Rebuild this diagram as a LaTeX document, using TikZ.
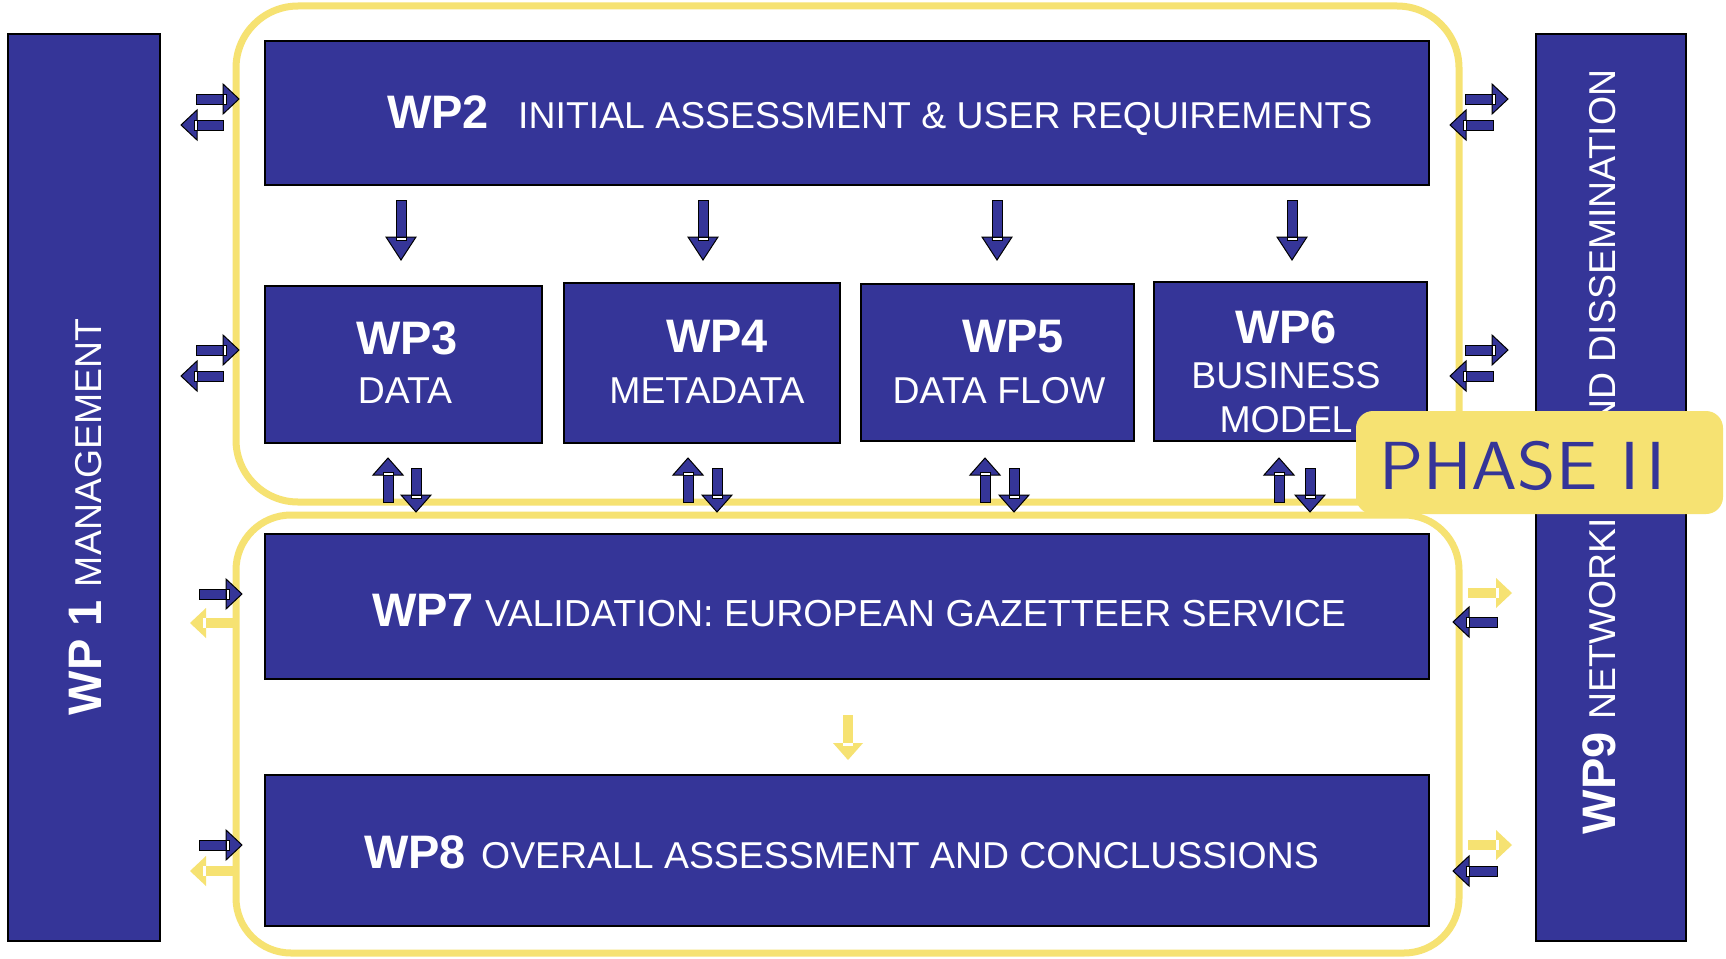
\documentclass[tikz,border=0pt]{standalone}
\usepackage{graphicx}
\usepackage{fontspec}
\setmainfont{Liberation Sans}
\definecolor{wpblue}{RGB}{53,53,152}
\definecolor{wpyellow}{RGB}{246,226,114}
\newcommand{\bigf}{\fontsize{47}{52}\selectfont\bfseries}
\newcommand{\normf}{\fontsize{37.4}{42}\selectfont\mdseries}
% block arrow: #1 colour key, #2 x tip, #3 y tip, #4 angle, #5 total length, #6 head length
\newcommand{\blk}[6]{\begin{scope}[shift={(#2,#3)},rotate=#4]
 \path[arr#1] (-#5,-5) rectangle (-#6+1,5);
 \path[arr#1] (-#6,-15) -- (0,0) -- (-#6,15) -- cycle;
 \path[mk#1] (-#6,-5) rectangle (-#6+3,5);
\end{scope}}
\begin{document}
\begin{tikzpicture}[x=1pt,y=-1pt,
  wpbox/.style={draw=black, line width=2pt, fill=wpblue},
  phaseline/.style={draw=wpyellow, line width=7pt},
  txt/.style={text=white, inner sep=0pt, anchor=base},
  txtw/.style={text=white, inner sep=0pt, anchor=base west},
  arrblue/.style={fill=wpblue, draw=black, line width=1pt},
  arryellow/.style={fill=wpyellow},
  mkblue/.style={fill=white, draw=black, line width=0.7pt},
  mkyellow/.style={fill=white}]
\useasboundingbox[fill=white] (0,0) rectangle (1726,958);

% phase frames
\draw[phaseline, rounded corners=62pt] (236,6) rectangle (1459,502);
\draw[phaseline, rounded corners=55pt] (236,515) rectangle (1459,953);

% side boxes
\path[wpbox] (8,34) rectangle (160,941);
\path[wpbox] (1536,34) rectangle (1686,941);
\node[txt, rotate=90] (wp1t) at (101,517) {\bigf WP 1 \normf MANAGEMENT};
\node[txt, rotate=90] (wp9t) at (1615,452) {\bigf WP9 \normf NETWORKING AND DISSEMINATION};

% main boxes
\path[wpbox] (265,41) rectangle (1429,185);
\path[wpbox] (265,286) rectangle (542,443);
\path[wpbox] (564,283) rectangle (840,443);
\path[wpbox] (861,284) rectangle (1134,441);
\path[wpbox] (1154,282) rectangle (1427,441);
\path[wpbox] (265,534) rectangle (1429,679);
\path[wpbox] (265,775) rectangle (1429,926);

% texts
\node[txtw] (wp2a) at (387,128) {\bigf WP2};
\node[txtw] (wp2b) at (518,128) {\normf INITIAL ASSESSMENT \& USER REQUIREMENTS};
\node[txt] (wp3a) at (407,354) {\bigf WP3};
\node[txt] (wp3b) at (405,403) {\normf DATA};
\node[txt] (wp4a) at (717,352) {\bigf WP4};
\node[txt] (wp4b) at (707,403) {\normf METADATA};
\node[txt] (wp5a) at (1013,352) {\bigf WP5};
\node[txt] (wp5b) at (999,403) {\normf DATA FLOW};
\node[txt] (wp6a) at (1286,343) {\bigf WP6};
\node[txt] (wp6b) at (1286,388) {\normf BUSINESS};
\node[txt] (wp6c) at (1286,432) {\normf MODEL};
\node[txtw] (wp7a) at (372,626) {\bigf WP7};
\node[txtw] (wp7b) at (485,626) {\fontsize{37.6}{42}\selectfont VALIDATION: EUROPEAN GAZETTEER SERVICE};
\node[txtw] (wp8a) at (364,868) {\bigf WP8};
\node[txtw] (wp8b) at (481,868) {\normf OVERALL ASSESSMENT AND CONCLUSSIONS};

% down arrows from WP2
\blk{blue}{401}{260}{-90}{60}{23}
\blk{blue}{703}{260}{-90}{60}{23}
\blk{blue}{997}{260}{-90}{60}{23}
\blk{blue}{1292}{260}{-90}{60}{23}

% up/down pairs
\blk{blue}{388}{458}{90}{44}{17}
\blk{blue}{416}{512}{-90}{44}{17}
\blk{blue}{688}{458}{90}{44}{17}
\blk{blue}{717}{512}{-90}{44}{17}
\blk{blue}{985}{458}{90}{44}{17}
\blk{blue}{1014}{512}{-90}{44}{17}
\blk{blue}{1279}{458}{90}{44}{17}
\blk{blue}{1310}{512}{-90}{44}{17}

% left side pairs
\blk{blue}{239}{99}{0}{43}{16}
\blk{blue}{181}{125}{180}{42}{16}
\blk{blue}{239}{350}{0}{43}{16}
\blk{blue}{181}{376}{180}{42}{16}
\blk{blue}{242}{594}{0}{43}{16}
\blk{yellow}{190}{623}{180}{43}{16}
\blk{blue}{242}{845}{0}{43}{16}
\blk{yellow}{190}{871}{180}{43}{16}

% right side pairs
\blk{blue}{1508}{99}{0}{43}{16}
\blk{blue}{1450}{125}{180}{43}{16}
\blk{blue}{1508}{350}{0}{43}{16}
\blk{blue}{1450}{376}{180}{43}{16}
\blk{yellow}{1512}{593}{0}{44}{16}
\blk{blue}{1453}{622}{180}{44}{16}
\blk{yellow}{1512}{845}{0}{44}{16}
\blk{blue}{1453}{871}{180}{44}{16}

% yellow down arrow WP7 -> WP8
\blk{yellow}{848}{760}{-90}{45}{17}

% phase label
\path[fill=wpyellow, rounded corners=17pt] (1356,411) rectangle (1723,514);
\node[inner sep=0pt, anchor=base west, text=wpblue] (phase) at (1379,489)
  {\scalebox{1.08}[1]{\sffamily\fontsize{68}{70}\selectfont PHASE I\kern7pt I}};
\end{tikzpicture}
\end{document}
